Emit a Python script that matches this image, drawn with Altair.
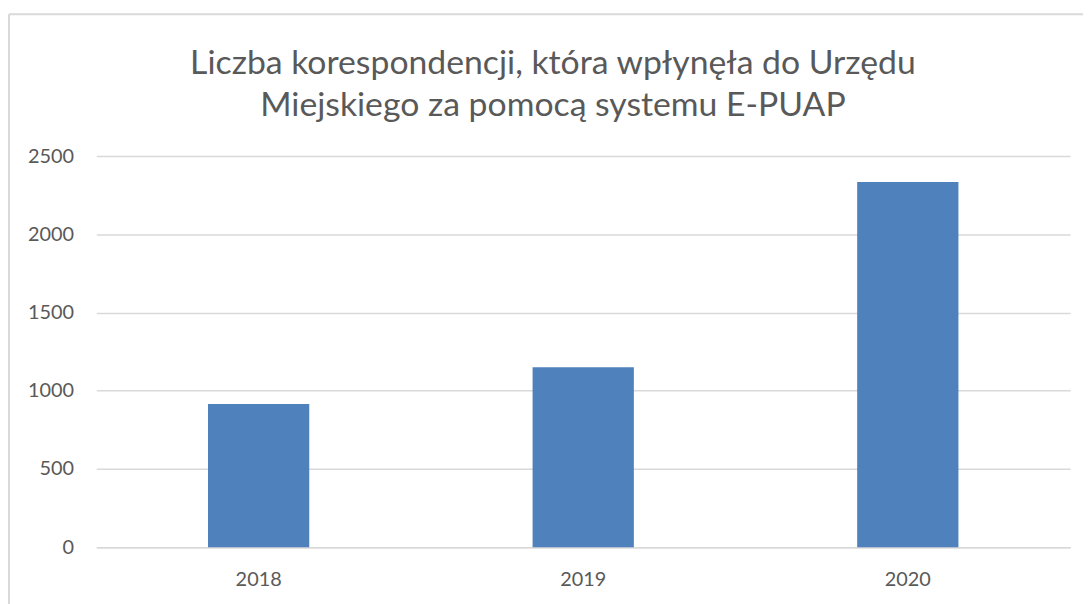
import altair as alt
import pandas as pd

years = ["2018", "2019", "2020"]
counts = [916, 1151, 2335]
title_lines = ["Liczba korespondencji, która wpłynęła do Urzędu",
               "Miejskiego za pomocą systemu E-PUAP"]
y_ticks = [0, 500, 1000, 1500, 2000, 2500]

df = pd.DataFrame({"year": years, "count": counts})

FONT = "Lato"
TXT = "#595959"
GRID = "#D9D9D9"

bars = alt.Chart(df).mark_bar(color="#4F81BD").encode(
    x=alt.X("year:N",
            scale=alt.Scale(paddingInner=0.688, paddingOuter=0.344),
            axis=alt.Axis(title=None, labelAngle=0, domain=True, domainColor=GRID,
                          domainWidth=1.5, ticks=False, labelPadding=23,
                          labelFont=FONT, labelFontSize=20, labelColor=TXT)),
    y=alt.Y("count:Q",
            scale=alt.Scale(domain=[0, 2500], nice=False),
            axis=alt.Axis(values=y_ticks, format="d", title=None, domain=False,
                          ticks=False, labelPadding=23, gridColor=GRID, gridWidth=1.5,
                          labelFont=FONT, labelFontSize=20, labelColor=TXT)),
)

frame_df = pd.DataFrame({"k": [0]})
vline = alt.Chart(frame_df).mark_rule(color=GRID, strokeWidth=2).encode(
    x=alt.value(-88), y=alt.value(-143), y2=alt.value(460))
hline = alt.Chart(frame_df).mark_rule(color=GRID, strokeWidth=2).encode(
    x=alt.value(-88), x2=alt.value(1010), y=alt.value(-143))

title = alt.Chart(frame_df).mark_text(
    text=title_lines, font=FONT, fontSize=34, color=TXT, align="center",
    baseline="alphabetic", lineHeight=43
).encode(x=alt.value(460), y=alt.value(-83))

chart = alt.layer(vline, hline, title, bars).properties(
    width=981, height=394,
    autosize=alt.AutoSizeParams(type="none"),
    padding={"left": 89, "top": 147, "right": 13, "bottom": 55},
).configure_view(stroke=None)

chart.save("out.html", embed_options={"renderer": "svg", "actions": False})
